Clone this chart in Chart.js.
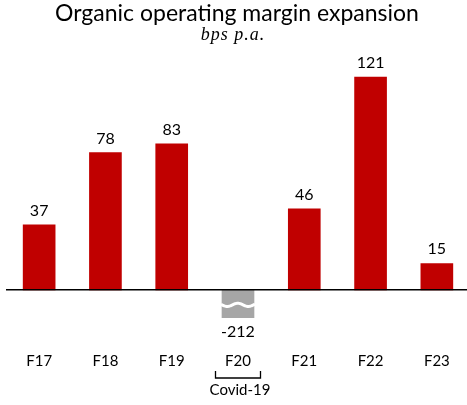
<!DOCTYPE html>
<html><head><meta charset="utf-8">
<script src="https://cdn.jsdelivr.net/npm/chart.js@4/dist/chart.umd.min.js"></script>
<style>html,body{margin:0;padding:0;overflow:hidden;background:#fff}#wrap{width:470px;height:405px}</style>
</head><body><div id="wrap"><canvas id="c" width="470" height="405"></canvas></div>
<script>
const categories = ['F17','F18','F19','F20','F21','F22','F23'];
const values = [37, 78, 83, -212, 46, 121, 15];
const valueLabels = ['37','78','83','-212','46','121','15'];
const brokenCategory = 'F20';
const bracketCategory = 'F20';
const bracketLabel = 'Covid-19';
const yMin = -16, yMax = 125;
const titleText = 'Organic operating margin expansion';
const subtitleText = 'bps p.a.';

const RED = '#c00000', GREY = '#a6a6a6';
const SANS = 'Lato, "Open Sans", sans-serif';
const colors = categories.map(c => c === brokenCategory ? GREY : RED);

const overlay = {
  id: 'overlay',
  afterDatasetsDraw(chart) {
    const ctx = chart.ctx, x = chart.scales.x, y = chart.scales.y;
    const meta = chart.getDatasetMeta(0);
    ctx.save();
    // zero line
    const y0 = y.getPixelForValue(0);
    ctx.strokeStyle = '#000'; ctx.lineWidth = 1.5;
    ctx.beginPath(); ctx.moveTo(6, y0); ctx.lineTo(chart.width, y0); ctx.stroke();
    // value labels
    ctx.fillStyle = '#000'; ctx.font = '16px ' + SANS; ctx.textAlign = 'center'; ctx.textBaseline = 'alphabetic';
    meta.data.forEach((bar, i) => {
      if (categories[i] === brokenCategory) {
        ctx.fillText(valueLabels[i], bar.x, chart.chartArea.bottom + 19);
      } else {
        ctx.fillText(valueLabels[i], bar.x, bar.y - 9);
      }
    });
    // wave break
    const bi = categories.indexOf(brokenCategory);
    const bb = meta.data[bi];
    const half = bb.width / 2;
    const wy = y0 + 15;
    ctx.strokeStyle = '#fff'; ctx.lineWidth = 3;
    ctx.beginPath();
    for (let px = bb.x - half - 1; px <= bb.x + half + 1; px += 0.5) {
      const yy = wy + 1.6 * Math.sin((px - (bb.x - half)) / 21 * 2 * Math.PI);
      if (px === bb.x - half - 1) ctx.moveTo(px, yy); else ctx.lineTo(px, yy);
    }
    ctx.stroke();
    // bracket
    const ci = categories.indexOf(bracketCategory);
    const cx = x.getPixelForValue(ci);
    ctx.strokeStyle = '#000'; ctx.lineWidth = 1.3;
    ctx.beginPath();
    ctx.moveTo(cx - 22.5, 371); ctx.lineTo(cx - 22.5, 378); ctx.lineTo(cx + 22.5, 378); ctx.lineTo(cx + 22.5, 371);
    ctx.stroke();
    ctx.font = '15px ' + SANS;
    ctx.fillText(bracketLabel, cx + 2, 395);
    // title
    ctx.font = '23px ' + SANS;
    ctx.fillText(titleText, 237, 21);
    ctx.font = 'italic 18px "Liberation Serif", serif';
    ctx.letterSpacing = '1px';
    ctx.fillText(subtitleText, 233, 40);
    ctx.restore();
  }
};

new Chart(document.getElementById('c'), {
  type: 'bar',
  data: {
    labels: categories,
    datasets: [{ data: values, backgroundColor: colors, borderWidth: 0, barThickness: 32 }]
  },
  options: {
    responsive: false,
    animation: false,
    events: [],
    layout: { padding: { left: 6, right: 0, top: 70, bottom: 0 } },
    plugins: { legend: { display: false }, tooltip: { enabled: false }, title: { display: false } },
    scales: {
      x: {
        grid: { display: false, drawTicks: false },
        border: { display: false },
        ticks: { color: '#000', font: { family: SANS, size: 15 }, padding: 34, maxRotation: 0 },
        afterFit: s => { s.height = 87; s.paddingLeft = 0; s.paddingRight = 0; }
      },
      y: { display: false, min: yMin, max: yMax }
    }
  },
  plugins: [overlay]
});
</script></body></html>
